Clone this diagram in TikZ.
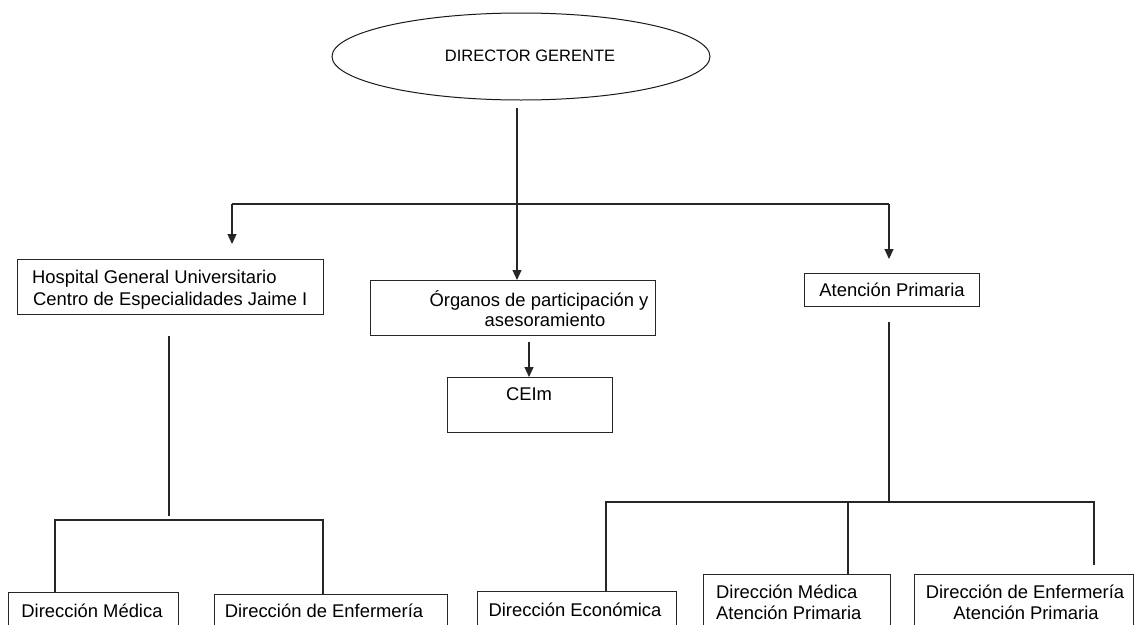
\documentclass[tikz,border=0pt]{standalone}
\usepackage{fontspec}
\setmainfont{Liberation Sans}
\usetikzlibrary{shapes.geometric,arrows.meta}
\begin{document}
\begin{tikzpicture}[x=1pt,y=-1pt,
  box/.style={draw=black!85, line width=1.1pt, inner sep=0pt, anchor=north west},
  txt/.style={inner sep=0pt, font=\fontsize{18.4}{22}\selectfont},
  conn/.style={draw=black!85, line width=1.2pt},
  arr/.style={conn, -{Triangle[width=9pt,length=10pt]}}]
\clip (0,0) rectangle (1134,624);
\fill[white] (0,0) rectangle (1134,624);

% top ellipse
\node[draw=black!90, ellipse, line width=1pt, minimum width=378pt, minimum height=87pt, inner sep=0pt] (dg) at (521,56.5) {};
\node[txt, anchor=base, font=\fontsize{16.5}{20}\selectfont] (dgt) at (530,61) {DIRECTOR GERENTE};

% boxes
\node[box, minimum width=306pt, minimum height=55pt] (hosp) at (17,259) {};
\node[txt, anchor=base west] (hosp1) at (32,283) {Hospital General Universitario};
\node[txt, anchor=base west] (hosp2) at (33,305) {Centro de Especialidades Jaime I};

\node[box, minimum width=285pt, minimum height=55pt] (org) at (370,280) {};
\node[txt, anchor=base] (org1) at (539,306) {Órganos de participación y};
\node[txt, anchor=base] (org2) at (545,326) {asesoramiento};

\node[box, minimum width=165pt, minimum height=55pt] (ceim) at (447,377) {};
\node[txt, anchor=base] (ceimt) at (529,400) {CEIm};

\node[box, minimum width=175pt, minimum height=33pt] (ap) at (804,273) {};
\node[txt, anchor=base] (apt) at (892,296) {Atención Primaria};

\node[box, minimum width=170pt, minimum height=60pt] (dmed) at (8,592) {};
\node[txt, anchor=base] (dmedt) at (92,617) {Dirección Médica};

\node[box, minimum width=233pt, minimum height=60pt] (denf) at (214,594) {};
\node[txt, anchor=base] (denft) at (324,617) {Dirección de Enfermería};

\node[box, minimum width=199pt, minimum height=60pt] (deco) at (477,591) {};
\node[txt, anchor=base] (decot) at (575,616) {Dirección Económica};

\node[box, minimum width=187pt, minimum height=70pt] (dmap) at (703,574) {};
\node[txt, anchor=base west] (dmap1) at (716,598) {Dirección Médica};
\node[txt, anchor=base west] (dmap2) at (716,619) {Atención Primaria};

\node[box, minimum width=219pt, minimum height=70pt] (deap) at (914,574) {};
\node[txt, anchor=base] (deap1) at (1025,598) {Dirección de Enfermería};
\node[txt, anchor=base] (deap2) at (1026,619) {Atención Primaria};

% connectors top
\coordinate (mTop) at (517,108);
\coordinate (busL) at (232,204);
\coordinate (busR) at (889,204);
\coordinate (hospIn) at (232,244);
\coordinate (apIn) at (889,259);
\coordinate (orgOut) at (529,342);
\draw[conn] (busL) -- (busR);
\draw[arr] (mTop) -- (mTop |- org.north);
\draw[arr] (busL) -- (hospIn);
\draw[arr] (busR) -- (apIn);
\draw[arr] (orgOut) -- (orgOut |- ceim.north);

% hospital tree
\coordinate (hTop) at (169,336);
\coordinate (hBot) at (169,516);
\coordinate (hL) at (55,520);
\coordinate (hR) at (323,520);
\draw[conn] (hTop) -- (hBot);
\draw[conn] (hL |- dmed.north) -- (hL) -- (hR) -- (hR |- denf.north);

% atencion primaria tree
\coordinate (aTop) at (889,322);
\coordinate (aJ) at (889,502);
\coordinate (aL) at (606,502);
\coordinate (aM) at (848,502);
\coordinate (aR) at (1094,502);
\coordinate (aRend) at (1094,565);
\draw[conn] (aTop) -- (aJ);
\draw[conn] (aL |- deco.north) -- (aL) -- (aR) -- (aRend);
\draw[conn] (aM) -- (aM |- dmap.north);
\end{tikzpicture}
\end{document}
